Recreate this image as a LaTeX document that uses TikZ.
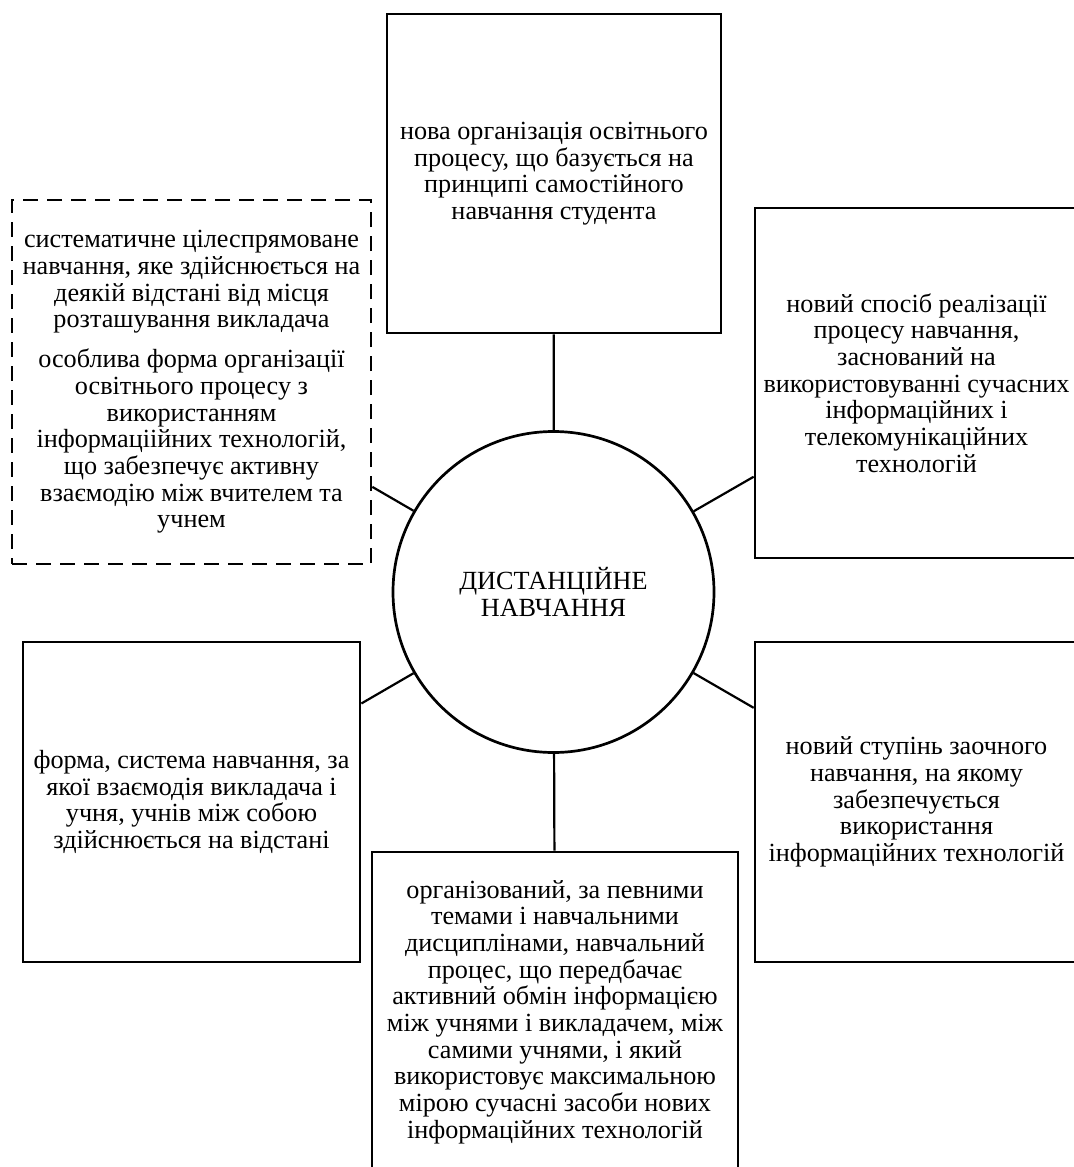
\documentclass[tikz,border=0pt]{standalone}
\usepackage{fontspec}
\setmainfont{Liberation Serif}
\begin{document}
\begin{tikzpicture}[x=0.5pt,y=-0.5pt]
			\tikzstyle{box}=[draw, line width=1.35pt, align=center, inner sep=0pt, font=\fontsize{13.1}{13.35}\selectfont]
			\tikzstyle{dashbox}=[box, dash pattern=on 7.5pt off 4.5pt]
			\useasboundingbox (0,0) rectangle (1074,1167);
			\node[box, circle, minimum size=160.5pt] (dist) at (553.5,592) {ДИСТАНЦІЙНЕ\\НАВЧАННЯ};
			\node[box, minimum width=167pt, minimum height=159.5pt] (org) at (554,173.5)
				{нова організація освітнього\\процесу, що базується на\\принципі самостійного\\навчання студента};
			\node[dashbox, minimum width=179.5pt, minimum height=182pt] (syst) at (191.5,382)
				{систематичне цілеспрямоване\\навчання, яке здійснюється на\\деякій відстані від місця\\розташування викладача\\[6.5pt]
				особлива форма організації\\освітнього процесу з\\використанням\\інформаціійних технологій,\\що забезпечує активну\\взаємодію між вчителем та\\учнем};
			\node[box, minimum width=161.5pt, minimum height=175pt] (sposib) at (916.5,383)
				{новий спосіб реалізації\\процесу навчання,\\заснований на\\використовуванні сучасних\\інформаційних і\\телекомунікаційних\\технологій};
			\node[box, minimum width=168.5pt, minimum height=160pt] (forma) at (191.5,802)
				{форма, система навчання, за\\якої взаємодія викладача і\\учня, учнів між собою\\здійснюється на відстані};
			\node[box, minimum width=161.5pt, minimum height=160pt] (stupin) at (916.5,802)
				{новий ступінь заочного\\навчання, на якому\\забезпечується\\використання\\інформаційних технологій};
			\node[box, minimum width=183pt, minimum height=160pt] (proces) at (555,1012)
				{організований, за певними\\темами і навчальними\\дисциплінами, навчальний\\процес, що передбачає\\активний обмін інформацією\\між учнями і викладачем, між\\самими учнями, і який\\використовує максимальною\\мірою сучасні засоби нових\\інформаційних технологій};
			\foreach \n in {org,syst,sposib,forma,stupin,proces}
				\draw[line width=1.1pt] (dist) -- (\n);
		\end{tikzpicture}
\end{document}
